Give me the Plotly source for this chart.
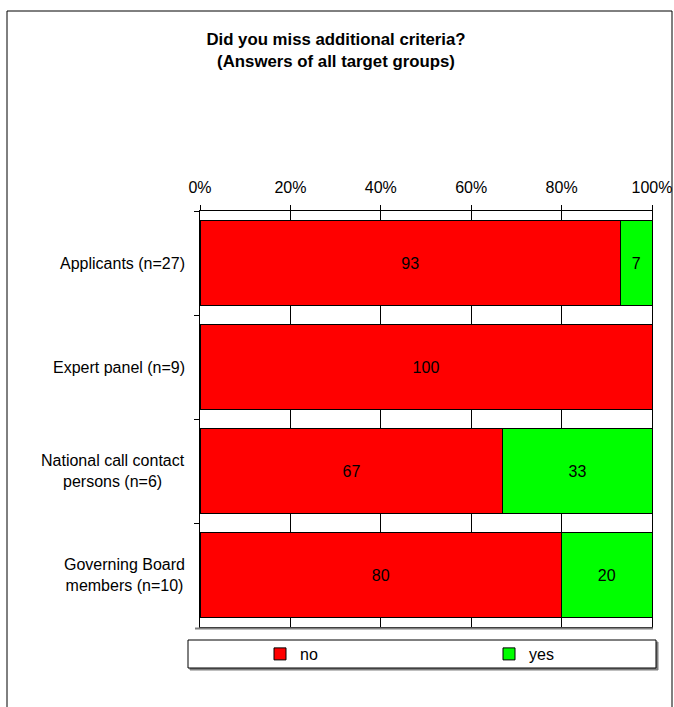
import plotly.graph_objects as go

categories = ["Applicants (n=27)", "Expert panel (n=9)", "National call contact persons (n=6)", "Governing Board members (n=10)"]
category_labels = ["Applicants (n=27)", "Expert panel (n=9)", "National call contact<br>persons (n=6)", "Governing Board<br>members (n=10)"]
no_values = [93, 100, 67, 80]
yes_values = [7, 0, 33, 20]
tick_values = [0, 20, 40, 60, 80, 100]
tick_labels = ["0%", "20%", "40%", "60%", "80%", "100%"]

W, H = 674, 707
L, R, T, B = 200, 22, 211, 80
PW, PH = W - L - R, H - T - B

def px_x(x):
    return (x - L) / PW

def px_y(y):
    return (H - B - y) / PH

FONT = "Arial, Liberation Sans, sans-serif"
FS = 16

fig = go.Figure()
fig.add_trace(go.Bar(
    y=categories, x=no_values, orientation="h", name="no", legend="legend",
    marker=dict(color="#FF0000", line=dict(color="black", width=1)),
    text=[str(v) if v else "" for v in no_values], textposition="inside",
    insidetextanchor="middle", textfont=dict(color="black", size=FS, family=FONT),
))
fig.add_trace(go.Bar(
    y=categories, x=yes_values, orientation="h", name="yes", legend="legend2",
    marker=dict(color="#00FF00", line=dict(color="black", width=1)),
    text=[str(v) if v else "" for v in yes_values], textposition="inside",
    insidetextanchor="middle", textfont=dict(color="black", size=FS, family=FONT),
))

annotations = []
for c, lab in zip(categories, category_labels):
    annotations.append(dict(
        x=0, xref="paper", y=c, yref="y", text=lab, showarrow=False,
        xanchor="right", xshift=-13, align="center",
        font=dict(size=FS, color="black", family=FONT),
    ))

GRAY = "#808080"
shapes = [
    # outer frame
    dict(type="rect", xref="paper", yref="paper",
         x0=px_x(7), x1=px_x(672), y0=px_y(720), y1=px_y(11),
         line=dict(color="black", width=1), fillcolor="rgba(0,0,0,0)", layer="below"),
    # legend box shadow
    dict(type="rect", xref="paper", yref="paper",
         x0=px_x(190), x1=px_x(658), y0=px_y(670), y1=px_y(642),
         line=dict(color=GRAY, width=1), fillcolor=GRAY, layer="below"),
    # legend box
    dict(type="rect", xref="paper", yref="paper",
         x0=px_x(188), x1=px_x(656), y0=px_y(668), y1=px_y(640),
         line=dict(color="black", width=1), fillcolor="white", layer="below"),
    # plot-area floor shadow
    dict(type="line", xref="paper", yref="paper",
         x0=px_x(195), x1=px_x(653), y0=px_y(628.5), y1=px_y(628.5),
         line=dict(color=GRAY, width=2), layer="above"),
]

legend_common = dict(
    orientation="h", xanchor="left", yanchor="middle", y=px_y(654),
    bgcolor="rgba(0,0,0,0)", borderwidth=0,
    font=dict(size=FS, family=FONT, color="black"),
)

fig.update_layout(
    width=W, height=H,
    margin=dict(l=L, r=R, t=T, b=B, autoexpand=False),
    paper_bgcolor="white", plot_bgcolor="white",
    barmode="stack", bargap=0.18,
    showlegend=True,
    font=dict(family=FONT, size=FS, color="black"),
    title=dict(
        text="<b>Did you miss additional criteria?<br>(Answers of all target groups)</b>",
        x=336 / W, xanchor="center", xref="container",
        y=1 - 45 / H, yanchor="middle", yref="container",
        font=dict(size=16.8, family=FONT, color="black"),
    ),
    xaxis=dict(
        side="top", range=[0, 100], tickvals=tick_values, ticktext=tick_labels,
        ticks="outside", ticklen=5, tickcolor="black", ticklabelstandoff=6,
        showline=True, linecolor="black", linewidth=1, mirror=True,
        showgrid=True, gridcolor="black", gridwidth=1, zeroline=False,
        tickfont=dict(size=FS, family=FONT, color="black"), automargin=False,
    ),
    yaxis=dict(
        categoryorder="array", categoryarray=categories, autorange="reversed",
        showticklabels=False, ticks="outside", ticklen=5, tickcolor="black",
        tickson="boundaries", automargin=False,
        showline=True, linecolor="black", linewidth=1, mirror=True,
        showgrid=False, zeroline=False,
    ),
    legend=dict(x=px_x(260), **legend_common),
    legend2=dict(x=px_x(489), **legend_common),
    annotations=annotations,
    shapes=shapes,
)

fig.write_html("out.html", config={"displayModeBar": False},
               post_script="document.body.style.margin='0';")
